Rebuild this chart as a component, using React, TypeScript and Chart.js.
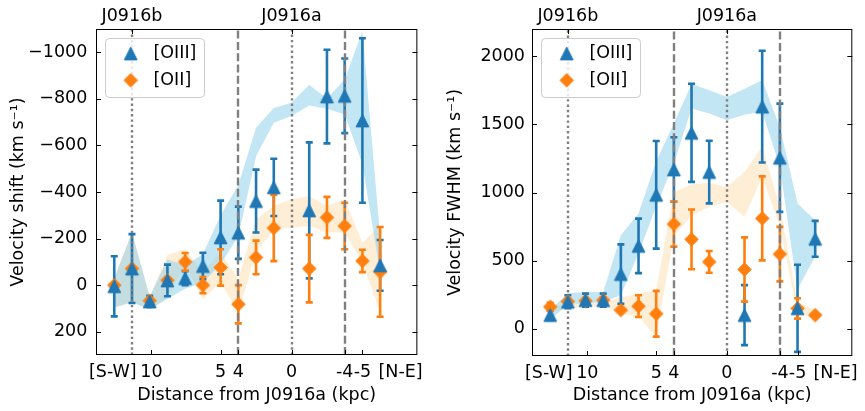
import React, { useEffect, useRef } from 'react';
import { Chart, registerables } from 'chart.js';

Chart.register(...registerables);

// ---------- data ----------
// bins along the slit (S-W -> N-E); bin 10 is J0916a (0 kpc), bin 1 is J0916b
const BAND_POS = [0, 1, 2, 3, 4, 5, 6, 7, 8, 9, 10, 11, 12, 13, 14, 15];
const POINT_POS = [0, 1, 2, 3, 4, 5, 6, 7, 8, 9, 11, 12, 13, 14, 15];

const X_TICK_POS = [-0.08, 2.1, 6, 7, 10, 13, 14, 16.15];
const X_TICK_LABELS = ['[S-W]', '10', '5', '4', '0', '-4', '-5', '[N-E]'];
const X_TICK_MARKED = [false, true, true, true, true, true, true, false];
const TOP_TICK_POS = [1, 10];
const TOP_TICK_LABELS = ['J0916b', 'J0916a'];
const DOTTED_POS = [1, 10];
const DASHED_POS = [7, 13];

const SHIFT_TICKS = [-1000, -800, -600, -400, -200, 0, 200];
const FWHM_TICKS = [0, 500, 1000, 1500, 2000];

// Left panel: velocity shift (km/s)
const SHIFT_OIII = [5, -71, 70, -20, -30, -82, -205, -225, -361, -420, -321, -810, -813, -707, -85];
const SHIFT_OIII_ERR = [129, 148, 24, 68, 30, 57, 158, 112, 135, 123, 292, 201, 160, 353, 109];
const SHIFT_OII = [0, -71, 67, -21, -100, 0, -76, 82, -119, -245, -71, -291, -254, -104, -57];
const SHIFT_OII_ERR = [8, 8, 10, 10, 38, 35, 78, 82, 72, 142, 145, 88, 100, 48, 193];
const SHIFT_BAND_OIII_HI = [-30, -226, 50, -110, -85, -133, -300, -430, -676, -761, -783, -861, -800, -883, -1090, -211];
const SHIFT_BAND_OIII_LO = [96, 74, 103, 60, 15, -11, -90, -210, -554, -697, -726, -771, -757, -733, -520, -54];
const SHIFT_BAND_OII_HI = [-30, -226, 50, -130, -155, -54, -140, -26, -283, -340, -369, -383, -340, -369, -183, -254];
const SHIFT_BAND_OII_LO = [96, 74, 103, 55, -85, 60, -11, 117, -140, -240, -247, -254, -226, -226, -97, 117];

// Right panel: velocity FWHM (km/s)
const FWHM_OIII = [100, 198, 210, 210, 401, 608, 983, 1169, 1438, 1150, 100, 1630, 1255, 150, 660];
const FWHM_OIII_ERR = [35, 48, 48, 48, 218, 200, 395, 237, 360, 230, 220, 410, 397, 320, 132];
const FWHM_OII = [161, 200, 205, 210, 137, 166, 110, 768, 656, 491, 435, 810, 548, 149, 100];
const FWHM_OII_ERR = [30, 20, 20, 20, 8, 80, 168, 165, 219, 80, 236, 308, 200, 75, 0];
const FWHM_BAND_OIII_HI = [140, 260, 270, 270, 687, 846, 1230, 1506, 1799, 1750, 1701, 1762, 1823, 1481, 919, 797];
const FWHM_BAND_OIII_LO = [70, 175, 185, 195, 247, 553, 900, 1213, 1616, 1579, 1530, 1570, 1595, 1188, 290, 530];
const FWHM_BAND_OII_HI = [170, 175, 185, 195, 230, 259, 284, 1000, 1060, 1070, 1041, 1151, 1340, 895, 198, 137];
const FWHM_BAND_OII_LO = [120, 150, 160, 165, 110, 88, -59, 680, 830, 895, 931, 821, 1115, 750, 113, 76];

// ---------- styling ----------
const FONT = "'DejaVu Sans', sans-serif";
const FS = 17.5;
const BLUE = '#1f77b4';
const ORANGE = '#ff7f0e';
const BLUE_BAND = 'rgba(135, 206, 235, 0.5)';
const ORANGE_BAND = 'rgba(255, 222, 173, 0.5)';
const GRAY = 'rgb(128,128,128)';

function makeMarker(kind: string, color: string) {
  const c = document.createElement('canvas');
  c.width = 17;
  c.height = 17;
  const g = c.getContext('2d')!;
  const m = 8.5;
  g.beginPath();
  if (kind === 'tri') {
    const h = 6.4;
    g.moveTo(m, m - h);
    g.lineTo(m + h, m + h);
    g.lineTo(m - h, m + h);
  } else {
    const h = 6.7;
    g.moveTo(m, m - h);
    g.lineTo(m + h, m);
    g.lineTo(m, m + h);
    g.lineTo(m - h, m);
  }
  g.closePath();
  g.fillStyle = color;
  g.fill();
  g.lineWidth = 1;
  g.strokeStyle = color;
  g.stroke();
  return c;
}

function pts(pos: number[], vals: number[]) {
  return pos.map((p, i) => ({ x: p, y: vals[i] }));
}

function drawErrorBars(ctx: any, x: any, y: any, pos: number[], vals: number[], errs: number[], color: string) {
  ctx.strokeStyle = color;
  ctx.lineWidth = 2.6;
  ctx.setLineDash([]);
  pos.forEach((p, i) => {
    if (!errs[i]) return;
    const px = x.getPixelForValue(p);
    const y1 = y.getPixelForValue(vals[i] - errs[i]);
    const y2 = y.getPixelForValue(vals[i] + errs[i]);
    ctx.beginPath();
    ctx.moveTo(px, y1);
    ctx.lineTo(px, y2);
    ctx.moveTo(px - 3.5, y1);
    ctx.lineTo(px + 3.5, y1);
    ctx.moveTo(px - 3.5, y2);
    ctx.lineTo(px + 3.5, y2);
    ctx.stroke();
  });
}

type Spec = {
  yMin: number; yMax: number; reverse: boolean; yTicks: number[];
  yTitle: string; yTitlePad: number; yAxisWidth: number; yTickPad: number; xAxisHeight: number;
  oiii: number[]; oiiiErr: number[]; oii: number[]; oiiErr: number[];
  bOiiiHi: number[]; bOiiiLo: number[]; bOiiHi: number[]; bOiiLo: number[];
};

function buildChart(canvas: HTMLCanvasElement, spec: Spec) {
  const tri = makeMarker('tri', BLUE);
  const dia = makeMarker('dia', ORANGE);

  const decor = {
    id: 'decor',
    beforeDatasetDraw(chart: any, args: any) {
      if (args.index !== 5) return;
      const { ctx, chartArea: a } = chart;
      const x = chart.scales.x;
      const y = chart.scales.y;
      ctx.save();
      ctx.beginPath();
      ctx.rect(a.left, a.top, a.right - a.left, a.bottom - a.top);
      ctx.clip();
      drawErrorBars(ctx, x, y, POINT_POS, spec.oiii, spec.oiiiErr, BLUE);
      drawErrorBars(ctx, x, y, POINT_POS, spec.oii, spec.oiiErr, ORANGE);
      ctx.strokeStyle = GRAY;
      ctx.lineWidth = 2.4;
      ctx.lineCap = 'butt';
      ctx.setLineDash([8, 3.3]);
      DASHED_POS.forEach((p) => {
        const px = Math.round(x.getPixelForValue(p));
        ctx.beginPath();
        ctx.moveTo(px, a.bottom);
        ctx.lineTo(px, a.top);
        ctx.stroke();
      });
      ctx.setLineDash([2.4, 2.9]);
      DOTTED_POS.forEach((p) => {
        const px = Math.round(x.getPixelForValue(p));
        ctx.beginPath();
        ctx.moveTo(px, a.bottom);
        ctx.lineTo(px, a.top);
        ctx.stroke();
      });
      ctx.restore();
    },
    afterDraw(chart: any) {
      const { ctx, chartArea: a } = chart;
      const x = chart.scales.x;
      const y = chart.scales.y;
      ctx.save();
      ctx.setLineDash([]);
      // frame
      ctx.strokeStyle = '#000';
      ctx.lineWidth = 1;
      ctx.strokeRect(a.left + 0.5, a.top + 0.5, a.right - a.left - 1, a.bottom - a.top - 1);
      // inward ticks
      ctx.beginPath();
      spec.yTicks.forEach((v) => {
        const py = Math.round(y.getPixelForValue(v)) + 0.5;
        ctx.moveTo(a.left, py);
        ctx.lineTo(a.left + 5, py);
        ctx.moveTo(a.right, py);
        ctx.lineTo(a.right - 5, py);
      });
      X_TICK_POS.forEach((p, i) => {
        if (!X_TICK_MARKED[i]) return;
        const px = Math.round(x.getPixelForValue(p)) + 0.5;
        ctx.moveTo(px, a.bottom);
        ctx.lineTo(px, a.bottom - 5);
      });
      TOP_TICK_POS.forEach((p) => {
        const px = Math.round(x.getPixelForValue(p)) + 0.5;
        ctx.moveTo(px, a.top);
        ctx.lineTo(px, a.top + 5);
      });
      ctx.stroke();
      // top labels
      ctx.fillStyle = '#000';
      ctx.font = `${FS}px ${FONT}`;
      ctx.textAlign = 'center';
      ctx.textBaseline = 'alphabetic';
      TOP_TICK_POS.forEach((p, i) => {
        ctx.fillText(TOP_TICK_LABELS[i], x.getPixelForValue(p), a.top - 8.5);
      });
      // legend
      const bx = a.left + 9.5;
      const by = a.top + 9.5;
      const bw = 99;
      const bh = 59;
      ctx.beginPath();
      if (ctx.roundRect) ctx.roundRect(bx, by, bw, bh, 4);
      else ctx.rect(bx, by, bw, bh);
      ctx.fillStyle = 'rgba(255,255,255,0.8)';
      ctx.fill();
      ctx.strokeStyle = '#cccccc';
      ctx.lineWidth = 1;
      ctx.stroke();
      const mx = a.left + 34.7;
      const y1 = a.top + 24.5;
      const y2 = a.top + 51.3;
      ctx.drawImage(tri, mx - tri.width / 2, y1 - tri.height / 2);
      ctx.drawImage(dia, mx - dia.width / 2, y2 - dia.height / 2);
      ctx.fillStyle = '#000';
      ctx.textAlign = 'left';
      ctx.textBaseline = 'middle';
      ctx.fillText('[OIII]', a.left + 57.5, y1);
      ctx.fillText('[OII]', a.left + 57.5, y2);
      ctx.restore();
    },
  };

  const yFmt = (v: any) => (v < 0 ? '\u2212' + Math.abs(v) : String(v));

  return new Chart(canvas, {
    type: 'line',
    data: {
      datasets: [
        { data: pts(BAND_POS, spec.bOiiLo), borderColor: 'transparent', borderWidth: 0, pointRadius: 0, fill: false, order: 5 },
        { data: pts(BAND_POS, spec.bOiiHi), borderColor: 'transparent', borderWidth: 0, pointRadius: 0, fill: '-1', backgroundColor: ORANGE_BAND, order: 4 },
        { data: pts(BAND_POS, spec.bOiiiLo), borderColor: 'transparent', borderWidth: 0, pointRadius: 0, fill: false, order: 3 },
        { data: pts(BAND_POS, spec.bOiiiHi), borderColor: 'transparent', borderWidth: 0, pointRadius: 0, fill: '-1', backgroundColor: BLUE_BAND, order: 2 },
        { data: pts(POINT_POS, spec.oiii), showLine: false, pointStyle: tri as any, pointRadius: 7, order: 0 },
        { data: pts(POINT_POS, spec.oii), showLine: false, pointStyle: dia as any, pointRadius: 7, order: 1 },
      ] as any,
    },
    options: {
      responsive: false,
      animation: false,
      devicePixelRatio: 1,
      events: [],
      layout: { padding: { left: 0, right: 7, top: 29, bottom: 0 } },
      plugins: { legend: { display: false }, tooltip: { enabled: false } },
      elements: { line: { tension: 0 } },
      scales: {
        x: {
          type: 'linear',
          min: -1.03,
          max: 17.1,
          afterBuildTicks: (s: any) => { s.ticks = X_TICK_POS.map((v) => ({ value: v })); },
          afterFit: (s: any) => { s.height = spec.xAxisHeight; },
          grid: { display: false, drawTicks: false },
          border: { display: false },
          ticks: {
            autoSkip: false, maxRotation: 0, minRotation: 0, padding: 7, color: '#000',
            font: { family: FONT, size: FS },
            callback: (_v: any, i: number) => X_TICK_LABELS[i],
          },
          title: {
            display: true, text: 'Distance from J0916a (kpc)', color: '#000',
            font: { family: FONT, size: FS }, padding: { top: 0, bottom: 5.5 },
          },
        },
        y: {
          type: 'linear',
          min: spec.yMin,
          max: spec.yMax,
          reverse: spec.reverse,
          afterBuildTicks: (s: any) => { s.ticks = spec.yTicks.map((v) => ({ value: v })); },
          afterFit: (s: any) => { s.width = spec.yAxisWidth; },
          grid: { display: false, drawTicks: false },
          border: { display: false },
          ticks: { padding: spec.yTickPad, color: '#000', font: { family: FONT, size: FS }, callback: yFmt },
          title: {
            display: true, text: spec.yTitle, color: '#000',
            font: { family: FONT, size: FS }, padding: { top: spec.yTitlePad, bottom: 0 },
          },
        },
      },
    } as any,
    plugins: [decor as any],
  });
}

const LEFT_SPEC: Spec = {
  yMin: -1100, yMax: 300, reverse: true, yTicks: SHIFT_TICKS,
  yTitle: 'Velocity shift (km s\u207B\u00B9)', yTitlePad: 8, yAxisWidth: 96, yTickPad: 8.7, xAxisHeight: 56,
  oiii: SHIFT_OIII, oiiiErr: SHIFT_OIII_ERR, oii: SHIFT_OII, oiiErr: SHIFT_OII_ERR,
  bOiiiHi: SHIFT_BAND_OIII_HI, bOiiiLo: SHIFT_BAND_OIII_LO, bOiiHi: SHIFT_BAND_OII_HI, bOiiLo: SHIFT_BAND_OII_LO,
};

const RIGHT_SPEC: Spec = {
  yMin: -200, yMax: 2200, reverse: false, yTicks: FWHM_TICKS,
  yTitle: 'Velocity FWHM (km s\u207B\u00B9)', yTitlePad: 14.5, yAxisWidth: 102, yTickPad: 7, xAxisHeight: 55,
  oiii: FWHM_OIII, oiiiErr: FWHM_OIII_ERR, oii: FWHM_OII, oiiErr: FWHM_OII_ERR,
  bOiiiHi: FWHM_BAND_OIII_HI, bOiiiLo: FWHM_BAND_OIII_LO, bOiiHi: FWHM_BAND_OII_HI, bOiiLo: FWHM_BAND_OII_LO,
};

export default function App() {
  const leftRef = useRef<HTMLCanvasElement>(null);
  const rightRef = useRef<HTMLCanvasElement>(null);
  useEffect(() => {
    const c1 = buildChart(leftRef.current!, LEFT_SPEC);
    const c2 = buildChart(rightRef.current!, RIGHT_SPEC);
    return () => {
      c1.destroy();
      c2.destroy();
    };
  }, []);
  return (
    <div style={{ position: 'fixed', left: 0, top: 0, width: 865, height: 411, background: '#fff' }}>
      <canvas ref={leftRef} width={430} height={411} style={{ position: 'absolute', left: 0, top: 0 }} />
      <canvas ref={rightRef} width={435} height={411} style={{ position: 'absolute', left: 430, top: 0 }} />
    </div>
  );
}
